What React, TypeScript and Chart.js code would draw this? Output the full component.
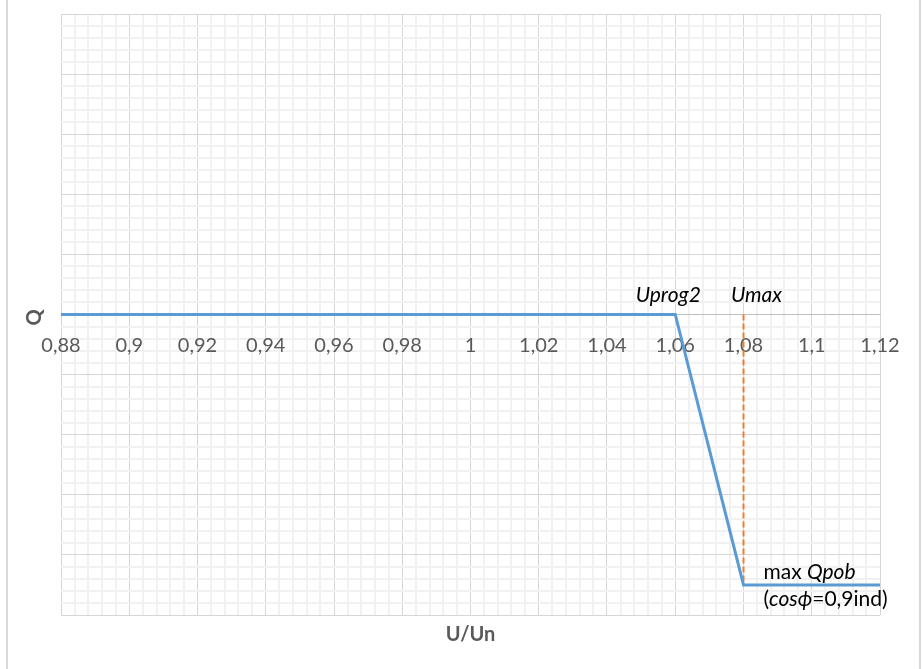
import React, { useEffect, useRef } from "react";
import { Chart, registerables } from "chart.js";

Chart.register(...registerables);

// ---- data ----
const uValues = [0.88, 1.06, 1.08, 1.12];
const qValues = [0, 0, -0.9, -0.9];
const umaxU = [1.08, 1.08];
const umaxQ = [0, -0.9];
const xMin = 0.88;
const xMax = 1.12;
const xMajorStep = 0.02;
const xMinorStep = 0.004;
const yMin = -1;
const yMax = 1;
const yMajorStep = 0.2;
const yMinorStep = 0.04;
const xTitle = "U/Un";
const yTitle = "Q";

const FONT = "Lato, 'Open Sans', sans-serif";
const MAJOR = "#D6D6D6";
const MINOR = "#F1F1F1";

function isMultiple(v: number, step: number) {
  const r = v / step;
  return Math.abs(r - Math.round(r)) < 1e-6;
}

type Seg = { t: string; italic?: boolean };

function drawSegs(ctx: CanvasRenderingContext2D, segs: Seg[], x: number, y: number, size: number) {
  let cx = x;
  for (const s of segs) {
    ctx.font = `${s.italic ? "italic " : ""}${size}px ${FONT}`;
    ctx.fillText(s.t, cx, y);
    cx += ctx.measureText(s.t).width;
  }
}

const extrasPlugin = {
  id: "extras",
  beforeDraw(chart: any) {
    const { ctx } = chart;
    ctx.save();
    ctx.fillStyle = "#ffffff";
    ctx.fillRect(0, 0, chart.width, chart.height);
    ctx.fillStyle = "#D9D9D9";
    ctx.fillRect(6, 0, 2, chart.height);
    ctx.fillRect(919, 0, 2, chart.height);
    ctx.restore();
  },
  afterDatasetsDraw(chart: any) {
    const { ctx, chartArea } = chart;
    const xs = chart.scales.x;
    const ys = chart.scales.y;
    ctx.save();
    // axis titles
    ctx.fillStyle = "#595959";
    ctx.font = `bold 20px ${FONT}`;
    ctx.textAlign = "center";
    ctx.textBaseline = "middle";
    ctx.fillText(xTitle, (chartArea.left + chartArea.right) / 2, 635);
    ctx.save();
    ctx.translate(35, ys.getPixelForValue(0) + 3);
    ctx.rotate(-Math.PI / 2);
    ctx.fillText(yTitle, 0, 0);
    ctx.restore();

    // annotations
    ctx.fillStyle = "#000000";
    ctx.font = `italic 21px ${FONT}`;
    ctx.textAlign = "center";
    const p1x = xs.getPixelForValue(uValues[1]);
    const p1y = ys.getPixelForValue(qValues[1]);
    ctx.fillText("Uprog2", p1x - 7, p1y - 19);
    const p2x = xs.getPixelForValue(umaxU[0]);
    ctx.fillText("Umax", p2x + 13, p1y - 19);

    ctx.textAlign = "left";
    const p3x = xs.getPixelForValue(uValues[2]);
    const p3y = ys.getPixelForValue(qValues[2]);
    drawSegs(ctx, [{ t: "max " }, { t: "Qpob", italic: true }], p3x + 20, p3y - 13, 21);
    drawSegs(ctx, [{ t: "(" }, { t: "cos\u03D5", italic: true }, { t: "=0,9ind)" }], p3x + 20, p3y + 14, 21);
    ctx.restore();
  },
};

export default function App() {
  const ref = useRef<HTMLCanvasElement | null>(null);
  useEffect(() => {
    if (!ref.current) return;
    const chart = new Chart(ref.current, {
      type: "scatter",
      data: {
        datasets: [
          {
            label: "Q(U)",
            data: uValues.map((u, i) => ({ x: u, y: qValues[i] })),
            showLine: true,
            borderColor: "#5B9BD5",
            backgroundColor: "#5B9BD5",
            borderWidth: 3,
            pointRadius: 0,
            tension: 0,
          },
          {
            label: "Umax",
            data: umaxU.map((u, i) => ({ x: u, y: umaxQ[i] })),
            showLine: true,
            borderColor: "#ED7D31",
            backgroundColor: "#ED7D31",
            borderWidth: 2,
            borderDash: [6, 3],
            pointRadius: 0,
          },
        ],
      },
      options: {
        responsive: false,
        animation: false,
        layout: { padding: { left: 61, right: 42, top: 14, bottom: 54 } },
        plugins: { legend: { display: false }, tooltip: { enabled: false } },
        scales: {
          x: {
            type: "linear",
            min: xMin,
            max: xMax,
            position: { y: 0 } as any,
            border: { display: true, color: "#BFBFBF", width: 1 },
            grid: {
              drawTicks: false,
              color: (c: any) => (isMultiple(c.tick.value, xMajorStep) ? MAJOR : MINOR),
              lineWidth: (c: any) => (isMultiple(c.tick.value, xMajorStep) ? 1 : 2),
            },
            ticks: {
              stepSize: xMinorStep,
              autoSkip: false,
              maxRotation: 0,
              padding: 19,
              color: "#595959",
              font: { family: FONT, size: 20 },
              callback: (v: any) => (isMultiple(Number(v), xMajorStep) ? String(Math.round(Number(v) * 100) / 100).replace(".", ",") : ""),
            },
          },
          y: {
            type: "linear",
            min: yMin,
            max: yMax,
            border: { display: false },
            afterFit: (s: any) => {
              s.width = 0;
            },
            grid: {
              drawTicks: false,
              color: (c: any) => (isMultiple(c.tick.value, yMajorStep) ? MAJOR : MINOR),
              lineWidth: (c: any) => (isMultiple(c.tick.value, yMajorStep) ? 1 : 2),
            },
            ticks: { display: false, stepSize: yMinorStep, autoSkip: false },
          },
        },
      },
      plugins: [extrasPlugin],
    });
    return () => chart.destroy();
  }, []);
  return (
    <div style={{ position: "fixed", left: 0, top: 0, width: 922, height: 669, background: "#fff" }}>
      <canvas ref={ref} width={922} height={669} style={{ display: "block" }} />
    </div>
  );
}
